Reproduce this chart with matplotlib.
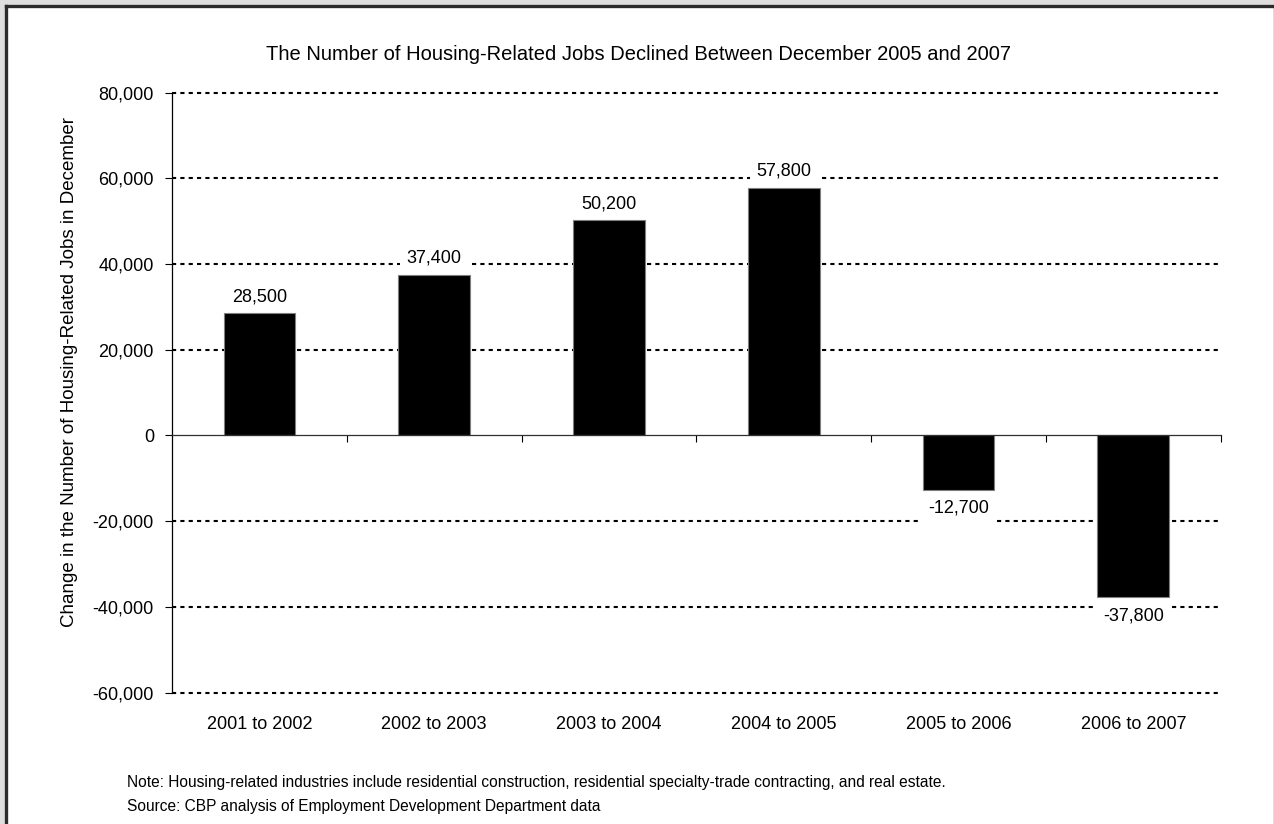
import matplotlib
matplotlib.use('Agg')
import matplotlib.pyplot as plt
from matplotlib import font_manager
from matplotlib.patches import Rectangle
from matplotlib.lines import Line2D
from matplotlib.ticker import FuncFormatter
from matplotlib.transforms import blended_transform_factory


# December-to-December change in housing-related jobs
periods = ['2001 to 2002', '2002 to 2003', '2003 to 2004',
           '2004 to 2005', '2005 to 2006', '2006 to 2007']
changes = [28500, 37400, 50200, 57800, -12700, -37800]
yticks = [-60000, -40000, -20000, 0, 20000, 40000, 60000, 80000]

title = 'The Number of Housing-Related Jobs Declined Between December 2005 and 2007'
ylabel = 'Change in the Number of Housing-Related Jobs in December'
note = ('Note: Housing-related industries include residential construction, '
        'residential specialty-trade contracting, and real estate.')
source = 'Source: CBP analysis of Employment Development Department data'


def PickFont(names):
	for name in names:
		try:
			font_manager.findfont(name, fallback_to_default=False)
			return name
		except ValueError:
			pass
	return 'DejaVu Sans'


bodyFont = PickFont(['Liberation Sans', 'Arial', 'DejaVu Sans'])
narrowFont = PickFont(['Liberation Sans Narrow', 'DejaVu Sans Condensed', 'Liberation Sans'])
plt.rcParams['font.family'] = bodyFont

# title size depends on whether a narrow face is available
titleSize = 18 if narrowFont != bodyFont else 14.5

W, H = 1274, 824
fig = plt.figure(figsize=(W/100, H/100), dpi=100, facecolor='#dedede')

# white page with a dark frame on the left and top
topY = (H-5.5)/H
fig.add_artist(Rectangle((6/W, 0), (1273-6)/W, topY, transform=fig.transFigure,
                         facecolor='white', edgecolor='none', zorder=-3))
fig.add_artist(Line2D([6.5/W, 6.5/W], [0, topY], transform=fig.transFigure,
                      color='#2b2b2b', lw=2.4, solid_capstyle='projecting', zorder=-2))
fig.add_artist(Line2D([6.5/W, 1], [topY, topY], transform=fig.transFigure,
                      color='#2b2b2b', lw=2.4, solid_capstyle='projecting', zorder=-2))

ax = fig.add_axes([172/W, 1-692.5/H, (1220.7-172)/W, (692.5-92.7)/H])
ax.patch.set_visible(False)

x = list(range(len(periods)))
ax.bar(x, changes, width=0.41, color='black', edgecolor='#7f7f7f', linewidth=0.8, zorder=3)

ax.set_xlim(-0.5, len(periods) - 0.5)
ax.set_ylim(yticks[0], yticks[-1])

# dotted gridlines, solid line at zero
for v in yticks:
	if v != 0:
		ax.axhline(v, color='black', lw=1.5, linestyle=(0, (2, 2)), zorder=1, clip_on=False)

for side in ['top', 'right']:
	ax.spines[side].set_visible(False)
ax.spines['bottom'].set_position(('data', 0))
ax.spines['bottom'].set_color('#303030')
ax.spines['bottom'].set_linewidth(0.9)
ax.spines['bottom'].set_zorder(4)
ax.spines['left'].set_linewidth(0.9)

ax.set_yticks(yticks)
ax.yaxis.set_major_formatter(FuncFormatter(lambda v, p: '{:,.0f}'.format(v)))
ax.tick_params(axis='y', direction='out', length=5, width=0.8, pad=8, labelsize=13)

ax.set_xticks([i + 0.5 for i in x])
ax.tick_params(axis='x', direction='out', length=5, width=0.8, labelbottom=False)

trans = blended_transform_factory(ax.transData, ax.transAxes)
for i, name in enumerate(periods):
	ax.text(i, -0.054, name, transform=trans, ha='center', va='center', fontsize=13)

for i, v in enumerate(changes):
	off = 6 if v > 0 else -7
	ax.annotate('{:,}'.format(v), xy=(i, v), xytext=(0, off), textcoords='offset points',
	            ha='center', va='bottom' if v > 0 else 'top', fontsize=13, zorder=5,
	            bbox=dict(boxstyle='square,pad=0.35', fc='white', ec='none'))

fig.text(639/W, 1-55/H, title, ha='center', va='center', fontsize=titleSize, family=narrowFont)
fig.text(70/W, 1-372/H, ylabel, rotation=90, ha='center', va='center', fontsize=13.5)
fig.text(127/W, 1-782/H, note, ha='left', va='center', fontsize=11.2)
fig.text(127/W, 1-806/H, source, ha='left', va='center', fontsize=11.2)

fig.savefig('out.png', dpi=100, facecolor=fig.get_facecolor())
